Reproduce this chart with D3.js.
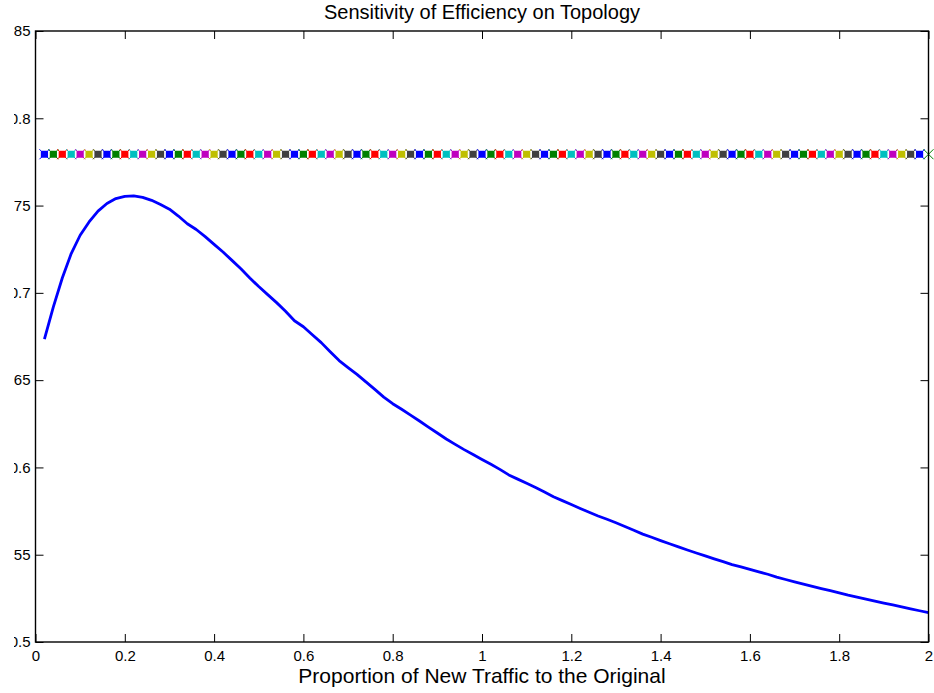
<!DOCTYPE html>
<html>
<head>
<meta charset="utf-8">
<script src="https://cdn.jsdelivr.net/npm/d3@7"></script>
<style>
  html, body { margin: 0; padding: 0; background: #fff; }
  svg { display: block; }
  text { font-family: "Liberation Sans", Arial, Helvetica, sans-serif; fill: #000; }
</style>
</head>
<body>
<svg id="chart" width="934" height="693"></svg>
<script>
// Proportion of new traffic (x) for every sample
const proportion = d3.range(1, 101).map(i => +(i * 0.02).toFixed(2));

// Efficiency after re-optimising the topology for each traffic proportion
const efficiencyOptimised = [
  0.6735, 0.6920, 0.7085, 0.7225, 0.7330, 0.7406, 0.7468, 0.7512, 0.7540, 0.7553,
  0.7555, 0.7547, 0.7530, 0.7506, 0.7479, 0.7440, 0.7396, 0.7363, 0.7322, 0.7278,
  0.7234, 0.7186, 0.7138, 0.7085, 0.7036, 0.6990, 0.6944, 0.6895, 0.6840, 0.6806,
  0.6760, 0.6715, 0.6663, 0.6612, 0.6572, 0.6533, 0.6490, 0.6447, 0.6403, 0.6365,
  0.6333, 0.6300, 0.6266, 0.6231, 0.6197, 0.6163, 0.6132, 0.6102, 0.6074, 0.6046,
  0.6018, 0.5989, 0.5957, 0.5933, 0.5909, 0.5885, 0.5859, 0.5832, 0.5810, 0.5788,
  0.5765, 0.5743, 0.5722, 0.5703, 0.5683, 0.5662, 0.5640, 0.5618, 0.5600, 0.5581,
  0.5563, 0.5545, 0.5527, 0.5510, 0.5493, 0.5476, 0.5460, 0.5443, 0.5430, 0.5416,
  0.5402, 0.5388, 0.5372, 0.5358, 0.5345, 0.5332, 0.5319, 0.5306, 0.5294, 0.5281,
  0.5268, 0.5257, 0.5246, 0.5234, 0.5223, 0.5212, 0.5201, 0.5190, 0.5179, 0.5168
];

// Efficiency of the original topology (constant over all proportions)
const efficiencyOriginal = proportion.map(() => 0.7794);

// Colour cycle for the per-sample markers
const markerColors = ["#0000ff", "#008000", "#ff0000", "#00bfbf", "#bf00bf", "#bfbf00", "#404040"];

// Axis ticks
const xTicks = [0, 0.2, 0.4, 0.6, 0.8, 1, 1.2, 1.4, 1.6, 1.8, 2];
const yTicks = [0.5, 0.55, 0.6, 0.65, 0.7, 0.75, 0.8, 0.85];
const yTickLabels = ["0.5", "0.55", "0.6", "0.65", "0.7", "0.75", "0.8", "0.85"];

const titleText = "Sensitivity of Efficiency on Topology";
const xLabelText = "Proportion of New Traffic to the Original";

const svg = d3.select("#chart");
const plotLeft = 35.5, plotRight = 928.5, plotTop = 31, plotBottom = 642;

const x = d3.scaleLinear().domain([0, 2]).range([plotLeft, plotRight]);
const y = d3.scaleLinear().domain([0.5, 0.85]).range([plotBottom, plotTop]);

// The figure is cut on its left edge, so the y labels are only partly shown
svg.append("defs").append("clipPath").attr("id", "figure-cut")
  .append("rect").attr("x", 14).attr("y", 0).attr("width", 920).attr("height", 693);

const tickFont = 15;
const tickLen = 8;

svg.append("g")
  .attr("transform", `translate(0,${plotBottom})`)
  .call(d3.axisBottom(x).tickValues(xTicks).tickSizeInner(-tickLen).tickSizeOuter(0).tickPadding(10)
    .tickFormat(d => String(d)))
  .call(g => g.select(".domain").remove())
  .call(g => g.selectAll(".tick line").attr("stroke", "#000").attr("stroke-width", 1))
  .call(g => g.selectAll(".tick text").attr("font-size", tickFont).attr("dy", "0.62em")
    .style("font-family", "'Liberation Sans', Arial, sans-serif"));

svg.append("g")
  .attr("transform", `translate(0,${plotTop})`)
  .call(d3.axisTop(x).tickValues(xTicks).tickSizeInner(-tickLen).tickSizeOuter(0).tickFormat(""))
  .call(g => g.select(".domain").remove())
  .call(g => g.selectAll(".tick line").attr("stroke", "#000"));

svg.append("g")
  .attr("clip-path", "url(#figure-cut)")
  .append("g")
  .attr("transform", `translate(${plotLeft},0)`)
  .call(d3.axisLeft(y).tickValues(yTicks).tickSizeInner(-tickLen).tickSizeOuter(0).tickPadding(5)
    .tickFormat((d, i) => yTickLabels[i]))
  .call(g => g.select(".domain").remove())
  .call(g => g.selectAll(".tick line").attr("stroke", "#000"))
  .call(g => g.selectAll(".tick text").attr("font-size", tickFont)
    .style("font-family", "'Liberation Sans', Arial, sans-serif"));

svg.append("g")
  .attr("transform", `translate(${plotRight},0)`)
  .call(d3.axisRight(y).tickValues(yTicks).tickSizeInner(-tickLen).tickSizeOuter(0).tickFormat(""))
  .call(g => g.select(".domain").remove())
  .call(g => g.selectAll(".tick line").attr("stroke", "#000"));

// Constant series: x markers beneath filled squares, colour cycling per sample
const marks = svg.append("g");
const xs = 5;
proportion.forEach((p, i) => {
  const cx = x(p), cy = y(efficiencyOriginal[i]);
  const c = markerColors[i % markerColors.length];
  marks.append("path")
    .attr("d", `M${cx - xs},${cy - xs}L${cx + xs},${cy + xs}M${cx - xs},${cy + xs}L${cx + xs},${cy - xs}`)
    .attr("stroke", c).attr("stroke-width", 1).attr("fill", "none");
});
proportion.forEach((p, i) => {
  if (i === proportion.length - 1) return;
  const cx = x(p), cy = y(efficiencyOriginal[i]);
  const c = markerColors[i % markerColors.length];
  marks.append("rect")
    .attr("x", cx - 3.6).attr("y", cy - 3.6).attr("width", 7.2).attr("height", 7.2)
    .attr("rx", 1.2)
    .attr("fill", c);
});

// Optimised efficiency curve
const line = d3.line().x((d, i) => x(proportion[i])).y(d => y(d));
svg.append("path")
  .datum(efficiencyOptimised)
  .attr("d", line)
  .attr("fill", "none")
  .attr("stroke", "#0000ff")
  .attr("stroke-width", 2.8)
  .attr("stroke-linejoin", "round");

// Frame
svg.append("rect")
  .attr("x", plotLeft).attr("y", plotTop)
  .attr("width", plotRight - plotLeft).attr("height", plotBottom - plotTop)
  .attr("fill", "none").attr("stroke", "#000").attr("stroke-width", 1.4);

// Title and axis label
svg.append("text")
  .attr("x", (plotLeft + plotRight) / 2).attr("y", 19)
  .attr("text-anchor", "middle").attr("font-size", 20)
  .text(titleText);

svg.append("text")
  .attr("x", (plotLeft + plotRight) / 2).attr("y", 683)
  .attr("text-anchor", "middle").attr("font-size", 21)
  .text(xLabelText);
</script>
</body>
</html>
